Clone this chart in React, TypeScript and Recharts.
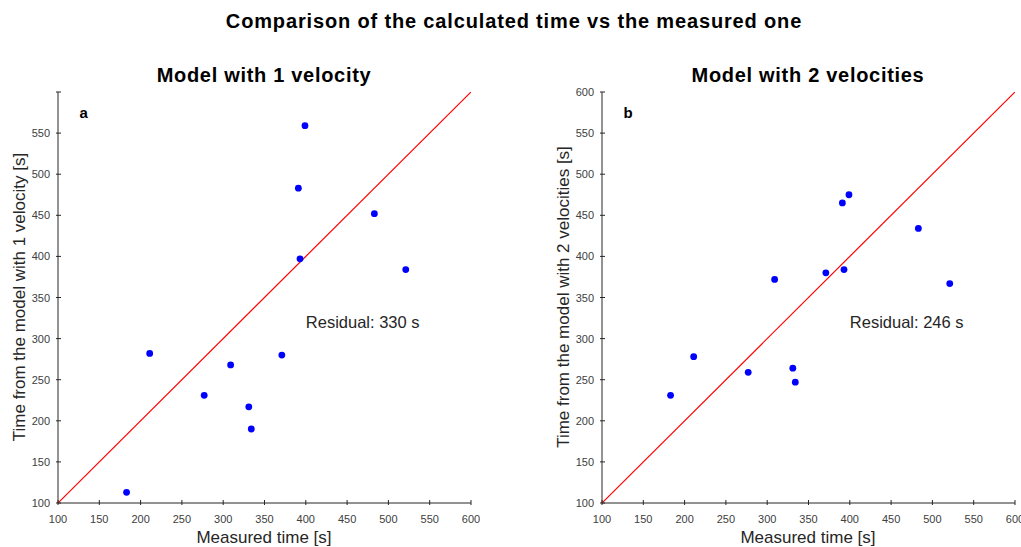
import React from "react";
import {
  ScatterChart,
  Scatter,
  XAxis,
  YAxis,
  ReferenceDot,
} from "recharts";

// measured travel times, shared by both panels
const measured = [183, 211, 277, 309, 331, 334, 371, 391, 393, 399, 483, 521];
// modelled times
const model1 = [113, 282, 231, 268, 217, 190, 280, 483, 397, 559, 452, 384];
const model2 = [231, 278, 259, 372, 264, 247, 380, 465, 384, 475, 434, 367];

// y = x reference line end points
const identity = [100, 600];

const xTicks = [100, 150, 200, 250, 300, 350, 400, 450, 500, 550, 600];
const yTicksA = [100, 150, 200, 250, 300, 350, 400, 450, 500, 550];
const yTicksB = [100, 150, 200, 250, 300, 350, 400, 450, 500, 550, 600];

const FONT = '"Liberation Sans", Arial, Helvetica, sans-serif';
const AXIS = "#262626";
const TICKTXT = "#404040";
const TICK_LEN = 5;

const BottomTick = (p: any) => (
  <g>
    <line x1={p.x} x2={p.x} y1={p.y} y2={p.y - TICK_LEN} stroke={AXIS} />
    <text x={p.x} y={p.y + 18} textAnchor="middle" fontSize={11} fill={TICKTXT} fontFamily={FONT}>
      {p.payload.value}
    </text>
  </g>
);
const TopTick = (p: any) => (
  <line x1={p.x} x2={p.x} y1={p.y} y2={p.y + TICK_LEN} stroke={AXIS} />
);
const makeLeftTick = (labels: number[]) => (p: any) => (
  <g>
    <line x1={p.x} x2={p.x + TICK_LEN} y1={p.y} y2={p.y} stroke={AXIS} />
    {labels.includes(p.payload.value) && (
      <text x={p.x - 6} y={p.y + 4} textAnchor="end" fontSize={11} fill={TICKTXT} fontFamily={FONT}>
        {p.payload.value}
      </text>
    )}
  </g>
);
const RightTick = (p: any) => (
  <line x1={p.x} x2={p.x - TICK_LEN} y1={p.y} y2={p.y} stroke={AXIS} />
);

const dot = (p: any) => <circle cx={p.cx} cy={p.cy} r={3.4} fill="#0000ff" />;
const noDot = () => <g />;

interface PanelProps {
  left: number;
  values: number[];
  yLabels: number[];
  letter: string;
  residual: string;
}

function Panel({ left, values, yLabels, letter, residual }: PanelProps) {
  const data = measured.map((m, i) => ({ x: m, y: values[i] }));
  const diag = identity.map((v) => ({ x: v, y: v }));
  return (
    <div style={{ position: "absolute", left, top: 60, width: 480, height: 480 }}>
      <ScatterChart width={480} height={480} margin={{ top: 32, right: 9, bottom: 7, left: 18 }}>
        <XAxis
          xAxisId="b"
          type="number"
          dataKey="x"
          domain={[100, 600]}
          ticks={xTicks}
          allowDataOverflow
          height={30}
          tickSize={0}
          tickLine={false}
          axisLine={{ stroke: AXIS }}
          tick={BottomTick}
          interval={0}
        />
        <XAxis
          xAxisId="t"
          orientation="top"
          type="number"
          dataKey="x"
          domain={[100, 600]}
          ticks={xTicks}
          allowDataOverflow
          height={0}
          tickSize={0}
          tickLine={false}
          axisLine={{ stroke: AXIS }}
          tick={TopTick}
          interval={0}
        />
        <YAxis
          yAxisId="l"
          type="number"
          dataKey="y"
          domain={[100, 600]}
          ticks={yTicksB}
          allowDataOverflow
          width={40}
          tickSize={0}
          tickLine={false}
          axisLine={{ stroke: AXIS }}
          tick={makeLeftTick(yLabels)}
          interval={0}
        />
        <YAxis
          yAxisId="r"
          orientation="right"
          type="number"
          dataKey="y"
          domain={[100, 600]}
          ticks={yTicksB}
          allowDataOverflow
          width={0}
          tickSize={0}
          tickLine={false}
          axisLine={{ stroke: AXIS }}
          tick={RightTick}
          interval={0}
        />
        <Scatter
          xAxisId="b"
          yAxisId="l"
          data={diag}
          line={{ stroke: "#ff0000", strokeWidth: 1.2 }}
          shape={noDot}
          isAnimationActive={false}
        />
        <Scatter xAxisId="b" yAxisId="l" data={data} shape={dot} isAnimationActive={false} />
        <ReferenceDot
          xAxisId="b"
          yAxisId="l"
          x={126}
          y={574}
          shape={(p: any) => (
            <text x={p.cx} y={p.cy + 5} fontSize={15} fontWeight="bold" fill="#000" fontFamily={FONT}>
              {letter}
            </text>
          )}
        />
        <ReferenceDot
          xAxisId="b"
          yAxisId="l"
          x={400}
          y={320}
          shape={(p: any) => (
            <text x={p.cx} y={p.cy + 6} fontSize={16.5} fill="#262626" fontFamily={FONT}>
              {residual}
            </text>
          )}
        />
      </ScatterChart>
    </div>
  );
}

export default function App() {
  return (
    <div
      style={{
        position: "absolute",
        left: 0,
        top: 0,
        width: 1021,
        height: 547,
        overflow: "hidden",
        background: "#fff",
        fontFamily: FONT,
      }}
    >
      <Panel left={0} values={model1} yLabels={yTicksA} letter="a" residual="Residual: 330 s" />
      <Panel left={544} values={model2} yLabels={yTicksB} letter="b" residual="Residual: 246 s" />
      <svg
        width={1021}
        height={547}
        style={{ position: "absolute", left: 0, top: 0, pointerEvents: "none" }}
        fontFamily={FONT}
      >
        <text x={514} y={28} textAnchor="middle" fontSize={20} fontWeight="bold" letterSpacing={0.85} fill="#000">
          Comparison of the calculated time vs the measured one
        </text>
        <text x={264} y={82} textAnchor="middle" fontSize={20} fontWeight="bold" letterSpacing={0.7} fill="#000">
          Model with 1 velocity
        </text>
        <text x={808} y={82} textAnchor="middle" fontSize={20} fontWeight="bold" letterSpacing={0.7} fill="#000">
          Model with 2 velocities
        </text>
        <text x={264} y={543} textAnchor="middle" fontSize={17} fill="#262626">
          Measured time [s]
        </text>
        <text x={808} y={543} textAnchor="middle" fontSize={17} fill="#262626">
          Measured time [s]
        </text>
        <text
          transform="translate(25,297) rotate(-90)"
          textAnchor="middle"
          fontSize={17}
          fill="#262626"
        >
          Time from the model with 1 velocity [s]
        </text>
        <text
          transform="translate(569,297) rotate(-90)"
          textAnchor="middle"
          fontSize={17}
          fill="#262626"
        >
          Time from the model with 2 velocities [s]
        </text>
      </svg>
    </div>
  );
}
